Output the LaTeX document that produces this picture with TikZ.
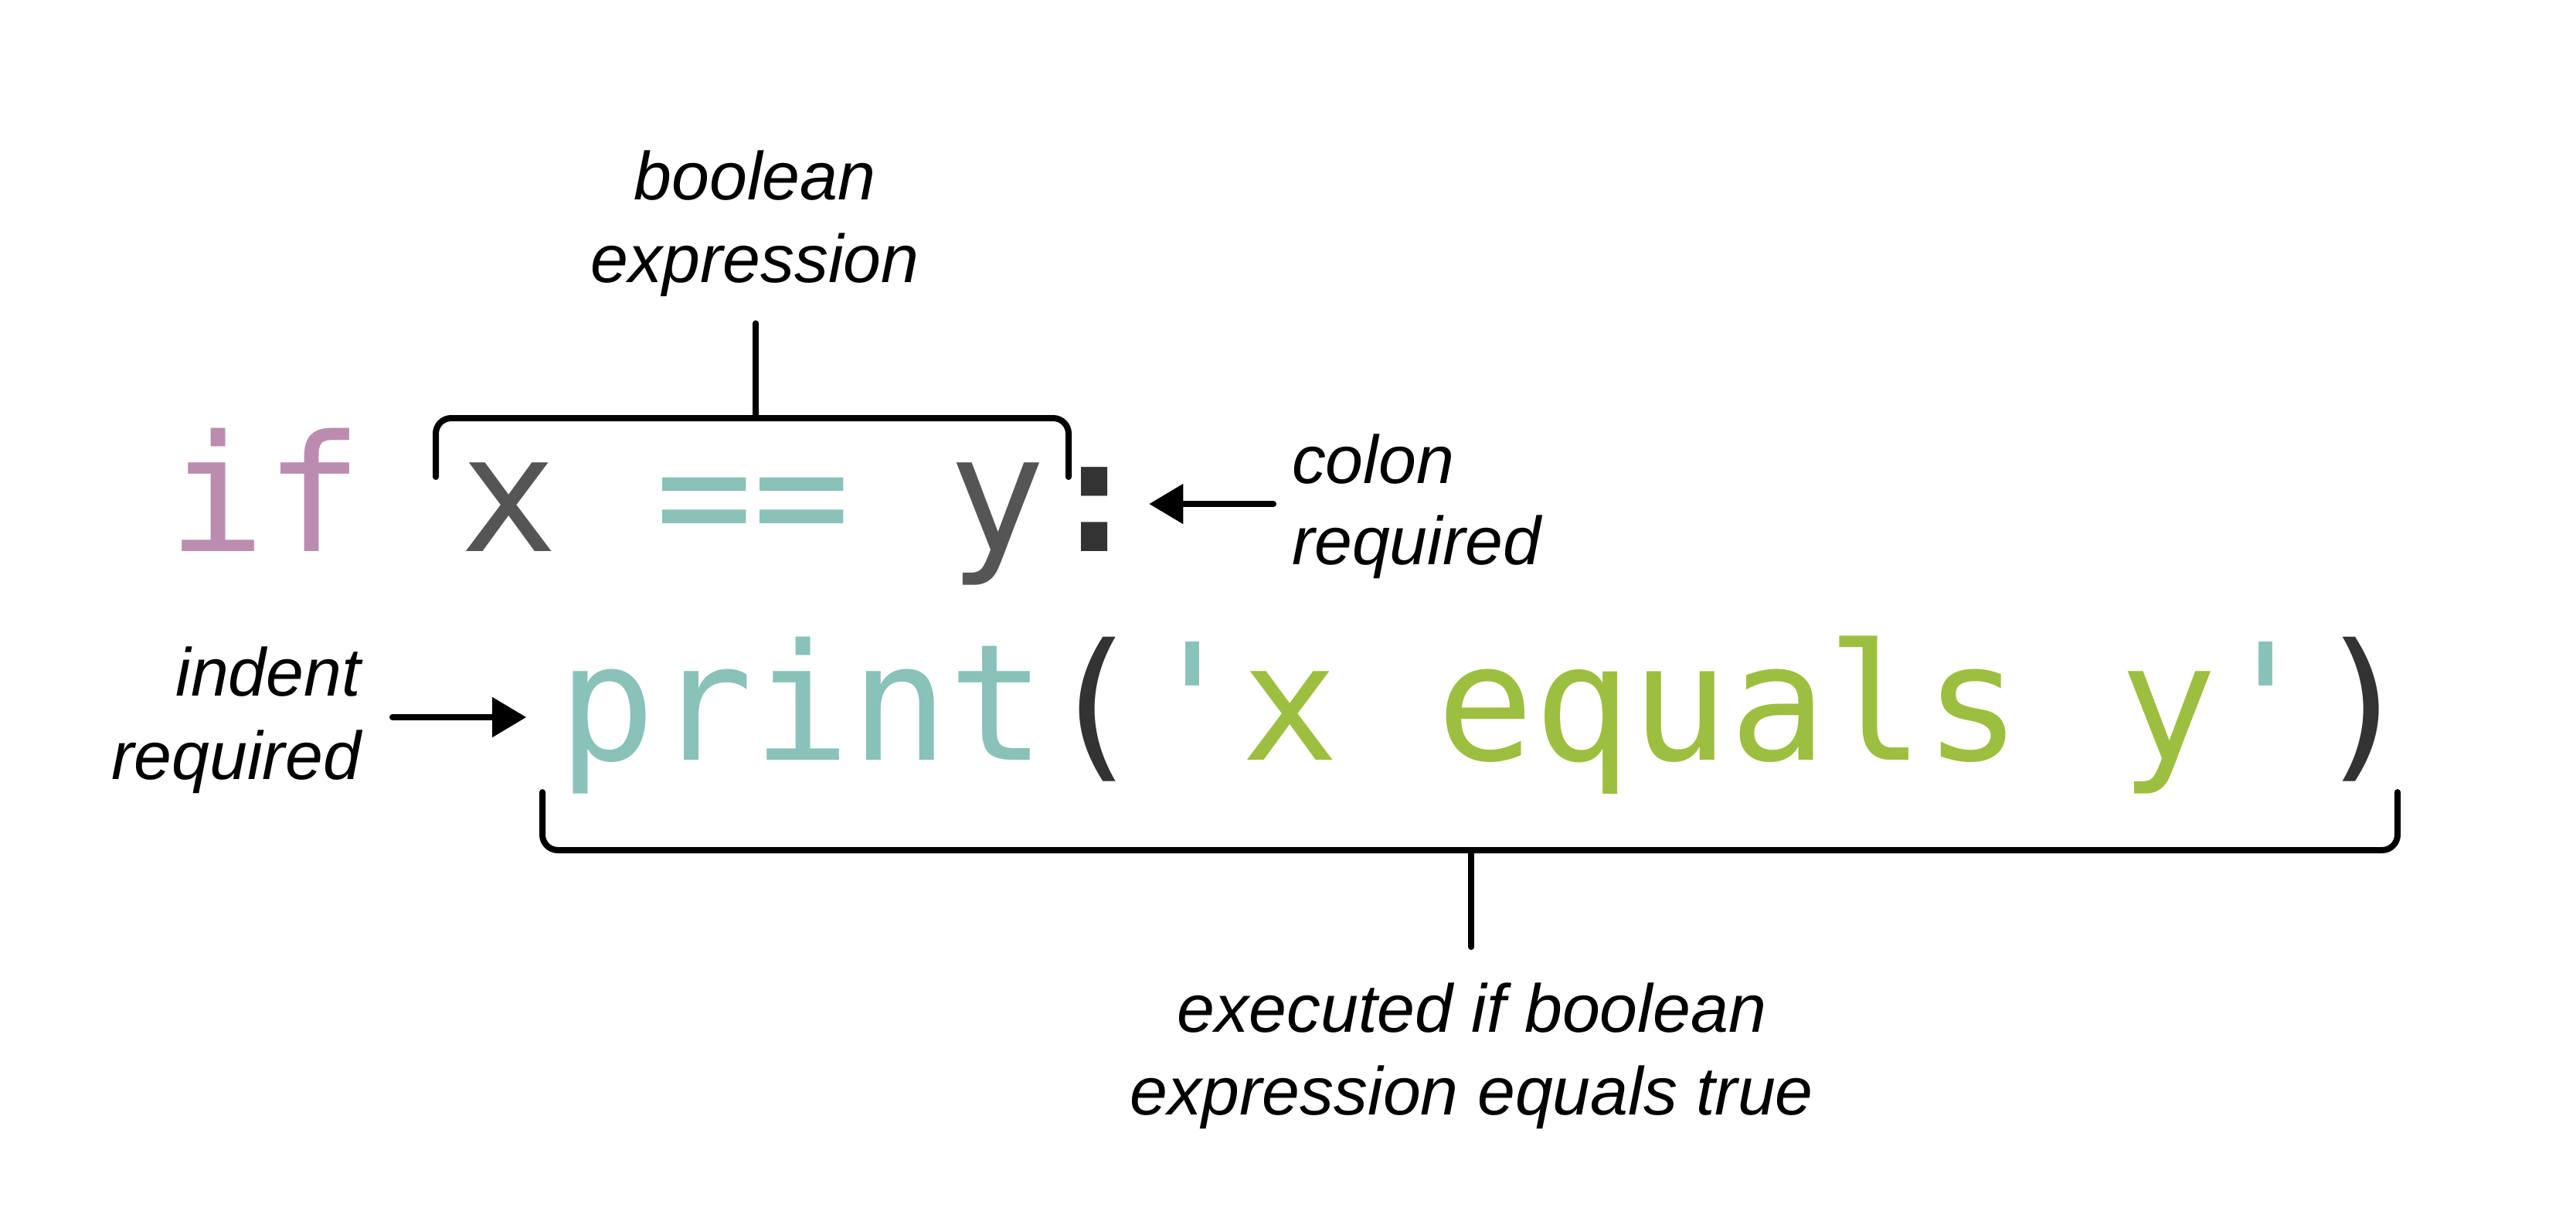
\documentclass[tikz,border=0pt]{standalone}
\usepackage{fontspec}
\setsansfont{Liberation Sans}
\setmonofont{DejaVu Sans Mono}
\usetikzlibrary{arrows.meta}

% syntax colours
\definecolor{kwcol}{HTML}{BC8CB0}
\definecolor{opcol}{HTML}{88C2B9}
\definecolor{strcol}{HTML}{9DBF3F}
\definecolor{varcol}{HTML}{555555}
\definecolor{puncol}{HTML}{333333}

\begin{document}
\begin{tikzpicture}[
  code/.style={inner sep=0pt, outer sep=0pt,
    font=\ttfamily\fontsize{59.7pt}{72pt}\selectfont},
  note/.style={inner sep=0pt, outer sep=0pt,
    font=\sffamily\itshape\fontsize{25pt}{30.4pt}\selectfont},
  brace/.style={line width=0.08cm, line cap=round, rounded corners=0.2cm},
  stem/.style={line width=0.075cm, line cap=round},
  pointer/.style={line width=0.08cm, line cap=round,
    -{Triangle[length=0.44cm, width=0.5cm]}},
]
\useasboundingbox (0,0) rectangle (33.34,-15.84);

% the two lines of code
\node[code, anchor=base west] (cond) at (2.17,-7.13)
  {\textcolor{kwcol}{if} \textcolor{varcol}{x} \textcolor{opcol}{==} \textcolor{varcol}{y}\textcolor{puncol}{\bfseries :}};
\node[code, anchor=base west] (body) at (7.222,-9.83)
  {\textcolor{opcol}{print}\textcolor{puncol}{(}\textcolor{opcol}{'}\textcolor{strcol}{x equals y}\textcolor{opcol}{'}\textcolor{puncol}{)}};

% annotations
\node[note, anchor=base] (boolA) at (9.77,-2.58) {boolean};
\node[note, anchor=base] (boolB) at (9.77,-3.65) {expression};
\node[note, anchor=base west] (colA) at (16.72,-6.25) {colon};
\node[note, anchor=base west] (colB) at (16.72,-7.30) {required};
\node[note, anchor=base east] (indA) at (4.67,-9.00) {indent};
\node[note, anchor=base east] (indB) at (4.67,-10.08) {required};
\node[note, anchor=base] (execA) at (19.05,-13.35) {executed if boolean};
\node[note, anchor=base] (execB) at (19.05,-14.42) {expression equals true};

% bracket over the condition
\draw[brace] (5.64,-6.17) -- (5.64,-5.41) -- (13.83,-5.41) -- (13.83,-6.17);
\coordinate (topMid) at (9.78,-5.41);
\draw[stem, shorten >=0.35cm] (topMid) -- (topMid |- boolB.south);

% bracket under the body
\draw[brace] (7.02,-10.25) -- (7.02,-11.00) -- (31.03,-11.00) -- (31.03,-10.25);
\coordinate (botMid) at (19.04,-11.00);
\draw[stem, shorten >=0.46cm] (botMid) -- (botMid |- execA.north);

% pointers
\coordinate (cTail) at (16.48,-6.52);
\draw[pointer, shorten >=0.07cm] (cTail) -- (cTail -| cond.east);
\coordinate (iTail) at (5.08,-9.28);
\draw[pointer, shorten >=0.41cm] (iTail) -- (iTail -| body.west);
\end{tikzpicture}
\end{document}
